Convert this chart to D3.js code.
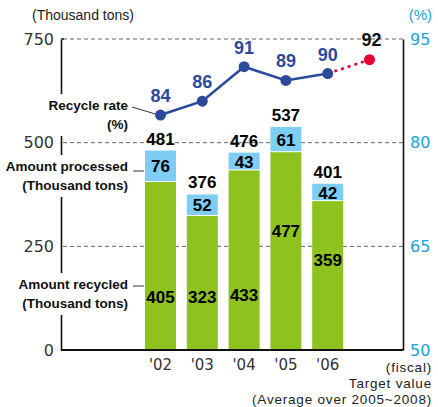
<!DOCTYPE html>
<html>
<head>
<meta charset="utf-8">
<script src="https://cdn.jsdelivr.net/npm/d3@7"></script>
<style>
  html, body { margin: 0; padding: 0; background: #fff; }
  svg { display: block; }
  .num { font-family: "DejaVu Sans", sans-serif; font-weight: normal; }
  .txt { font-family: "Liberation Sans", Arial, sans-serif; }
  .bold { font-family: "Liberation Sans", Arial, sans-serif; font-weight: bold; }
</style>
</head>
<body>
<svg id="chart" width="438" height="407"></svg>
<script>
// Fiscal years and amounts (thousand tons)
const years = ["'02", "'03", "'04", "'05", "'06"];
const targetKey = "target";
const processed = [76, 52, 43, 61, 42];     // light-blue segment
const recycled = [405, 323, 433, 477, 359]; // green segment
const totals = [481, 376, 476, 537, 401];   // label above each bar
// Recycle rate (%)
const rates = [84, 86, 91, 89, 90];
const targetRate = 92;
// Axis ticks
const leftTicks = [0, 250, 500, 750];
const rightTicks = [50, 65, 80, 95];

// Where the label inside each green bar sits (thousand tons level)
const recycledLabelLevel = [128, 128, 133, 287, 217];

const C = {
  green: "#8dc21f",
  blue: "#7fcdf3",
  navy: "#2c4a9c",
  red: "#e60033",
  cyan: "#1ba1e2",
  grid: "#666"
};

const svg = d3.select("#chart");
const plotL = 61, plotR = 403, plotT = 39, plotB = 350;

const x = d3.scaleBand()
  .domain([...years, targetKey])
  .range([139.6, 390.4])
  .paddingInner(0.258)
  .paddingOuter(0.129);
const y = d3.scaleLinear().domain([0, 750]).range([plotB, plotT]);
const yr = d3.scaleLinear().domain([50, 95]).range([plotB, plotT]);
const cx = k => x(k) + x.bandwidth() / 2;

// Dashed grid lines
svg.append("g").selectAll("line")
  .data(leftTicks.filter(d => d > 0))
  .join("line")
  .attr("x1", plotL + 2).attr("x2", plotR)
  .attr("y1", d => y(d)).attr("y2", d => y(d))
  .attr("stroke", C.grid).attr("stroke-width", 1)
  .attr("stroke-dasharray", "4,3");

// Left axis (thousand tons)
const gL = svg.append("g").attr("transform", `translate(${plotL},0)`)
  .call(d3.axisLeft(y).tickValues(leftTicks).tickSize(0).tickPadding(7));
gL.select(".domain").attr("stroke", "#111").attr("stroke-width", 1.6);
gL.selectAll("text").attr("class", "num").attr("font-size", 16).attr("fill", "#333");
svg.append("line").attr("x1", plotL).attr("x2", plotL + 3)
  .attr("y1", y(750)).attr("y2", y(750)).attr("stroke", "#111").attr("stroke-width", 1.4);

// Right axis (%)
const gR = svg.append("g").attr("transform", `translate(${plotR},0)`)
  .call(d3.axisRight(yr).tickValues(rightTicks).tickSize(0).tickPadding(7));
gR.select(".domain").attr("stroke", "#111").attr("stroke-width", 1.6);
gR.selectAll("text").attr("class", "num").attr("font-size", 16).attr("fill", C.cyan);

// Bottom axis
const gB = svg.append("g").attr("transform", `translate(0,${plotB})`)
  .call(d3.axisBottom(x).tickValues(years).tickSize(0).tickPadding(9));
gB.select(".domain").remove();
gB.selectAll("text").attr("class", "num").attr("font-size", 15).attr("fill", "#333");
svg.append("line").attr("x1", plotL).attr("x2", plotR)
  .attr("y1", plotB).attr("y2", plotB).attr("stroke", "#111").attr("stroke-width", 2);

// Unit captions
svg.append("text").attr("class", "txt").attr("x", 32).attr("y", 20)
  .attr("font-size", 14).attr("fill", "#222").text("(Thousand tons)");
svg.append("text").attr("class", "txt").attr("x", 432).attr("y", 20)
  .attr("text-anchor", "end").attr("font-size", 15).attr("fill", C.cyan).text("(%)");

// Stacked bars
const rows = years.map((k, i) => ({
  k, rec: recycled[i], pro: processed[i], tot: totals[i], lbl: recycledLabelLevel[i]
}));
const bars = svg.append("g").selectAll("g").data(rows).join("g");
bars.append("rect")
  .attr("x", d => x(d.k)).attr("width", x.bandwidth())
  .attr("y", d => y(d.rec)).attr("height", d => y(0) - y(d.rec) - 1)
  .attr("fill", C.green);
bars.append("rect")
  .attr("x", d => x(d.k)).attr("width", x.bandwidth())
  .attr("y", d => y(d.rec + d.pro)).attr("height", d => y(d.rec) - y(d.rec + d.pro) - 1)
  .attr("fill", C.blue);
bars.append("text").attr("class", "bold").attr("font-size", 17).attr("text-anchor", "middle")
  .attr("x", d => cx(d.k)).attr("y", d => (y(d.rec) + y(d.rec + d.pro)) / 2).attr("dy", "0.36em")
  .text(d => d.pro);
bars.append("text").attr("class", "bold").attr("font-size", 17).attr("text-anchor", "middle")
  .attr("x", d => cx(d.k)).attr("y", d => y(d.lbl)).attr("dy", "0.36em")
  .text(d => d.rec);
bars.append("text").attr("class", "bold").attr("font-size", 17).attr("text-anchor", "middle")
  .attr("x", d => cx(d.k)).attr("y", d => y(d.tot) - 6)
  .text(d => d.tot);

// Recycle rate line
const pts = years.map((k, i) => ({ k, v: rates[i] }));
const line = d3.line().x(d => cx(d.k)).y(d => yr(d.v));
svg.append("path").datum(pts).attr("d", line)
  .attr("fill", "none").attr("stroke", C.navy).attr("stroke-width", 2.6);
svg.append("path").datum([pts[pts.length - 1], { k: targetKey, v: targetRate }]).attr("d", line)
  .attr("fill", "none").attr("stroke", C.red).attr("stroke-width", 2.6)
  .attr("stroke-dasharray", "3,4");
svg.append("g").selectAll("circle").data(pts).join("circle")
  .attr("cx", d => cx(d.k)).attr("cy", d => yr(d.v)).attr("r", 5.5).attr("fill", C.navy);
svg.append("circle").attr("cx", cx(targetKey)).attr("cy", yr(targetRate)).attr("r", 5.5).attr("fill", C.red);
svg.append("g").selectAll("text").data(pts).join("text")
  .attr("class", "bold").attr("font-size", 18).attr("text-anchor", "middle")
  .attr("fill", C.navy)
  .attr("x", d => cx(d.k)).attr("y", d => yr(d.v) - 13)
  .text(d => d.v);
svg.append("text").attr("class", "bold").attr("font-size", 18).attr("text-anchor", "middle")
  .attr("fill", "#111").attr("x", cx(targetKey) + 2).attr("y", yr(targetRate) - 14)
  .text(targetRate);

// Fiscal / target captions
const cap = svg.append("g").attr("class", "txt").attr("font-size", 13.5).attr("fill", "#222")
  .attr("letter-spacing", 0.8).attr("text-anchor", "end");
cap.append("text").attr("x", 432).attr("y", 372).text("(fiscal)");
cap.append("text").attr("x", 432).attr("y", 387.5).text("Target value");
cap.append("text").attr("x", 432).attr("y", 404).text("(Average over 2005~2008)");

// Series call-outs on the left, with white backing over the axis
function callout(lines, yTop, lead) {
  const g = svg.append("g");
  const bg = g.append("rect").attr("fill", "#fff");
  const t = g.append("g").attr("class", "bold").attr("font-size", 13.5).attr("fill", "#111")
    .attr("text-anchor", "end");
  lines.forEach((s, i) => t.append("text").attr("x", 128).attr("y", yTop + i * 19).text(s));
  const b = t.node().getBBox();
  bg.attr("x", b.x - 2).attr("y", b.y - 4).attr("width", b.width + 4).attr("height", b.height + 8);
  g.append("line").attr("x1", lead[0]).attr("y1", lead[1]).attr("x2", lead[2]).attr("y2", lead[3])
    .attr("stroke", "#333").attr("stroke-width", 1);
}
callout(["Recycle rate", "(%)"], 110, [132, 107, cx(years[0]) - 5, yr(rates[0]) - 1]);
callout(["Amount processed", "(Thousand tons)"], 171, [133, 171, x(years[0]) - 1, 171]);
callout(["Amount recycled", "(Thousand tons)"], 289, [133, 286, x(years[0]) - 1, 286]);
</script>
</body>
</html>
